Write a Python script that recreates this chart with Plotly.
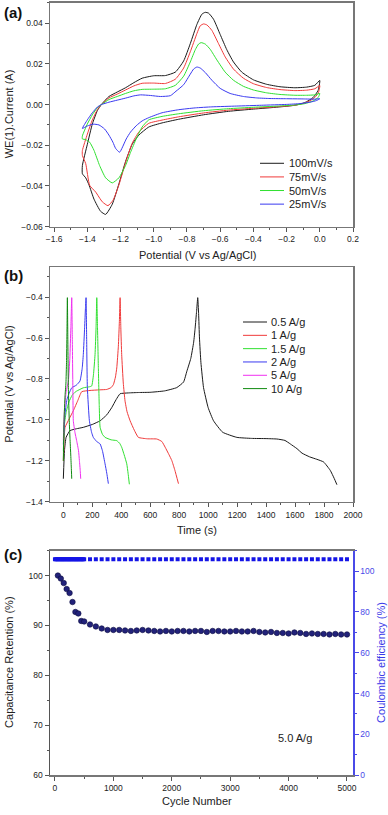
import plotly.graph_objects as go

FONT = "Liberation Sans, Arial, sans-serif"

# ---------------- (a) Cyclic voltammetry ----------------
cv_labels = ["100mV/s", "75mV/s", "50mV/s", "25mV/s"]
cv_colors = ["#1a1a1a", "#f03a3a", "#30e030", "#3a3af0"]

cv100_v = [-1.43, -1.40, -1.37, -1.34, -1.316, -1.27, -1.22, -1.17, -1.12, -1.07, -1.00, -0.93, -0.87, -0.82, -0.78, -0.74, -0.71, -0.69, -0.67, -0.64, -0.60, -0.56, -0.52, -0.47, -0.40, -0.32, -0.24, -0.15, -0.08, -0.03, 0.0,
           -0.01, -0.04, -0.09, -0.15, -0.25, -0.40, -0.55, -0.70, -0.85, -0.95, -1.03, -1.09, -1.13, -1.17, -1.21, -1.25, -1.29, -1.32, -1.36, -1.39, -1.41, -1.43, -1.43]
cv100_i = [-0.030, -0.0195, -0.0095, -0.003, 0.0, 0.0040, 0.0062, 0.0083, 0.0108, 0.0130, 0.0142, 0.0143, 0.0160, 0.0215, 0.0300, 0.0395, 0.0445, 0.0454, 0.0450, 0.0420, 0.0345, 0.0270, 0.0210, 0.0160, 0.0122, 0.0100, 0.0088, 0.0083, 0.0086, 0.0095, 0.0119,
           0.0070, 0.0035, 0.0010, -0.0003, -0.0012, -0.0022, -0.0033, -0.0050, -0.0072, -0.0090, -0.0110, -0.0150, -0.0195, -0.0280, -0.0390, -0.0490, -0.0540, -0.0525, -0.0465, -0.0395, -0.0360, -0.0340, -0.030]

cv75_v = [-1.43, -1.40, -1.37, -1.34, -1.316, -1.27, -1.22, -1.17, -1.12, -1.07, -1.00, -0.93, -0.87, -0.82, -0.78, -0.74, -0.72, -0.70, -0.68, -0.65, -0.61, -0.57, -0.52, -0.46, -0.40, -0.32, -0.24, -0.15, -0.08, -0.03, 0.0,
          -0.01, -0.04, -0.09, -0.15, -0.25, -0.40, -0.55, -0.70, -0.85, -0.95, -1.03, -1.09, -1.13, -1.17, -1.21, -1.245, -1.276, -1.31, -1.35, -1.386, -1.41, -1.43, -1.43]
cv75_i = [-0.0226, -0.0145, -0.0075, -0.0025, 0.0, 0.0033, 0.0052, 0.0072, 0.0092, 0.0105, 0.0106, 0.0104, 0.0125, 0.0180, 0.0260, 0.0350, 0.0388, 0.0397, 0.0392, 0.0365, 0.0300, 0.0235, 0.0175, 0.0130, 0.0103, 0.0084, 0.0074, 0.0069, 0.0071, 0.0078, 0.0094,
          0.0055, 0.0028, 0.0008, -0.0003, -0.0010, -0.0018, -0.0027, -0.0041, -0.0060, -0.0076, -0.0092, -0.0135, -0.0190, -0.0285, -0.0395, -0.0470, -0.0497, -0.0478, -0.0430, -0.0397, -0.0290, -0.0250, -0.0226]

cv50_v = [-1.43, -1.40, -1.37, -1.34, -1.316, -1.27, -1.22, -1.17, -1.12, -1.07, -1.00, -0.93, -0.87, -0.82, -0.78, -0.75, -0.73, -0.715, -0.69, -0.66, -0.62, -0.57, -0.52, -0.46, -0.40, -0.32, -0.24, -0.15, -0.08, -0.03, 0.0,
          -0.01, -0.04, -0.09, -0.15, -0.25, -0.40, -0.55, -0.70, -0.85, -0.95, -1.03, -1.07, -1.106, -1.14, -1.17, -1.21, -1.25, -1.29, -1.326, -1.36, -1.386, -1.41, -1.43, -1.43]
cv50_i = [-0.0154, -0.0095, -0.0050, -0.0015, 0.0, 0.0025, 0.0040, 0.0055, 0.0068, 0.0075, 0.0076, 0.0078, 0.0095, 0.0140, 0.0210, 0.0270, 0.0298, 0.0305, 0.0298, 0.0272, 0.0220, 0.0160, 0.0120, 0.0090, 0.0072, 0.0058, 0.0050, 0.0046, 0.0046, 0.0048, 0.0055,
          0.0035, 0.0018, 0.0005, -0.0002, -0.0007, -0.0013, -0.0020, -0.0030, -0.0045, -0.0058, -0.0075, -0.0110, -0.0169, -0.0235, -0.0300, -0.0360, -0.0385, -0.0360, -0.0300, -0.0225, -0.0185, -0.0172, -0.0169, -0.0154]

cv25_v = [-1.43, -1.40, -1.37, -1.34, -1.316, -1.27, -1.22, -1.17, -1.12, -1.08, -1.02, -0.96, -0.90, -0.866, -0.82, -0.78, -0.76, -0.74, -0.72, -0.69, -0.65, -0.60, -0.54, -0.46, -0.38, -0.30, -0.20, -0.10, -0.03, 0.0,
          -0.02, -0.06, -0.12, -0.20, -0.35, -0.50, -0.65, -0.75, -0.85, -0.95, -1.03, -1.07, -1.106, -1.14, -1.166, -1.206, -1.23, -1.246, -1.27, -1.296, -1.33, -1.366, -1.40, -1.43]
cv25_i = [-0.0117, -0.0075, -0.0040, -0.0012, 0.0, 0.0012, 0.0022, 0.0032, 0.0043, 0.0048, 0.0045, 0.0040, 0.0044, 0.0066, 0.0098, 0.0150, 0.0175, 0.0185, 0.0180, 0.0158, 0.0120, 0.0080, 0.0055, 0.0040, 0.0033, 0.0030, 0.0029, 0.0028, 0.0027, 0.0029,
          0.0020, 0.0012, 0.0005, 0.0001, -0.0003, -0.0007, -0.0011, -0.0016, -0.0025, -0.0040, -0.0064, -0.0080, -0.0104, -0.0135, -0.0169, -0.0234, -0.0215, -0.0185, -0.0150, -0.0120, -0.0100, -0.0096, -0.0105, -0.0117]

cv_v = [cv100_v, cv75_v, cv50_v, cv25_v]
cv_i = [cv100_i, cv75_i, cv50_i, cv25_i]

# ---------------- (b) Galvanostatic charge-discharge ----------------
gcd_labels = ["0.5 A/g", "1 A/g", "1.5 A/g", "2 A/g", "5 A/g", "10 A/g"]
gcd_colors = ["#1a1a1a", "#f03a3a", "#30e030", "#3a3af0", "#f030f0", "#108a10"]

gcd05_t = [0, 8, 19, 46, 90, 138, 200, 254, 300, 334, 365, 392, 450, 520, 599, 700, 783, 830, 853, 880, 900, 910, 920, 928, 934, 940, 950, 968, 1000, 1037, 1100, 1198, 1300, 1400, 1475, 1530, 1567, 1613, 1648, 1700, 1750, 1797, 1843, 1870, 1889]
gcd05_v = [-1.287, -1.15, -1.085, -1.052, -1.043, -1.036, -1.022, -1.004, -0.975, -0.94, -0.90, -0.872, -0.868, -0.866, -0.865, -0.858, -0.842, -0.815, -0.762, -0.70, -0.62, -0.552, -0.47, -0.403, -0.48, -0.60, -0.72, -0.842, -0.94, -1.004, -1.06, -1.085, -1.09, -1.091, -1.093, -1.100, -1.117, -1.140, -1.162, -1.180, -1.192, -1.205, -1.246, -1.285, -1.316]

gcd1_t = [0, 5, 12, 40, 69, 100, 127, 184, 250, 300, 330, 346, 360, 369, 380, 387, 392, 397, 403, 414, 426, 440, 461, 490, 518, 580, 645, 680, 703, 730, 749, 770, 795]
gcd1_v = [-1.20, -1.10, -1.036, -0.995, -0.955, -0.905, -0.862, -0.856, -0.853, -0.851, -0.842, -0.827, -0.79, -0.746, -0.64, -0.519, -0.403, -0.55, -0.681, -0.82, -0.907, -0.96, -1.004, -1.05, -1.085, -1.092, -1.093, -1.105, -1.133, -1.17, -1.198, -1.245, -1.311]

gcd15_t = [0, 8, 20, 40, 60, 80, 92, 138, 180, 196, 208, 219, 226, 231, 236, 242, 248, 254, 270, 288, 330, 369, 390, 403, 420, 438, 447, 456]
gcd15_v = [-1.15, -1.02, -0.96, -0.91, -0.88, -0.865, -0.859, -0.843, -0.838, -0.834, -0.78, -0.681, -0.55, -0.403, -0.55, -0.75, -0.93, -1.036, -1.07, -1.085, -1.097, -1.101, -1.115, -1.133, -1.17, -1.214, -1.26, -1.314]

gcd2_t = [0, 10, 25, 40, 58, 90, 115, 130, 138, 147, 153, 157, 161, 166, 180, 195, 207, 230, 254, 270, 288, 300, 311]
gcd2_v = [-1.12, -0.98, -0.90, -0.87, -0.843, -0.83, -0.81, -0.75, -0.681, -0.55, -0.45, -0.403, -0.60, -0.843, -1.004, -1.06, -1.085, -1.105, -1.117, -1.15, -1.214, -1.26, -1.311]

gcd5_t = [0, 8, 20, 35, 45, 52, 58, 62, 66, 69, 80, 92, 105, 111, 117, 120]
gcd5_v = [-1.10, -0.95, -0.86, -0.81, -0.70, -0.55, -0.403, -0.60, -0.85, -1.004, -1.06, -1.101, -1.15, -1.198, -1.25, -1.287]

gcd10_t = [0, 5, 12, 18, 22, 25, 28, 31, 35, 41, 46, 51, 55, 58]
gcd10_v = [-1.20, -1.00, -0.88, -0.82, -0.72, -0.58, -0.403, -0.60, -0.85, -1.004, -1.09, -1.166, -1.23, -1.287]

gcd_t = [gcd05_t, gcd1_t, gcd15_t, gcd2_t, gcd5_t, gcd10_t]
gcd_v = [gcd05_v, gcd1_v, gcd15_v, gcd2_v, gcd5_v, gcd10_v]

# ---------------- (c) Cycling stability ----------------
ret_cycles = [50, 100, 150, 200, 250, 300, 350, 400, 450, 500,
              600, 700, 800, 900, 1000, 1100, 1200, 1300, 1400, 1500, 1600, 1700, 1800, 1900, 2000,
              2100, 2200, 2300, 2400, 2500, 2600, 2700, 2800, 2900, 3000, 3100, 3200, 3300, 3400, 3500,
              3600, 3700, 3800, 3900, 4000, 4100, 4200, 4300, 4400, 4500, 4600, 4700, 4800, 4900, 5000]
retention = [100.0, 99.4, 98.5, 97.3, 96.5, 94.7, 92.7, 92.4, 90.9, 90.8,
             90.2, 89.8, 89.4, 89.1, 89.1, 89.1, 89.0, 88.9, 89.0, 89.1, 89.0, 88.9, 88.8, 88.9, 88.8,
             88.9, 88.9, 88.8, 88.9, 88.9, 88.7, 88.9, 88.9, 88.8, 88.8, 88.9, 88.8, 88.8, 88.9, 88.7,
             88.6, 88.7, 88.5, 88.5, 88.4, 88.6, 88.5, 88.3, 88.4, 88.3, 88.3, 88.2, 88.3, 88.2, 88.2]

ce_cycles = [0, 20, 40, 60, 80, 100, 120, 140, 160, 180, 200, 220, 240, 260, 280, 300, 320, 340, 360, 380, 400, 420, 440, 460, 480, 500,
             600, 700, 800, 900, 1000, 1100, 1200, 1300, 1400, 1500, 1600, 1700, 1800, 1900, 2000,
             2100, 2200, 2300, 2400, 2500, 2600, 2700, 2800, 2900, 3000, 3100, 3200, 3300, 3400, 3500,
             3600, 3700, 3800, 3900, 4000, 4100, 4200, 4300, 4400, 4500, 4600, 4700, 4800, 4900, 5000]
ce_values = [105.8, 105.8, 105.8, 105.8, 105.8, 105.8, 105.8, 105.8, 105.8, 105.8, 105.8, 105.8, 105.8,
             105.8, 105.8, 105.8, 105.8, 105.8, 105.8, 105.8, 105.8, 105.8, 105.8, 105.8, 105.8, 105.8,
             105.8, 105.8, 105.8, 105.8, 105.8, 105.8, 105.8, 105.8, 105.8, 105.8, 105.8, 105.8, 105.8, 105.8, 105.8,
             105.8, 105.8, 105.8, 105.8, 105.8, 105.8, 105.8, 105.8, 105.8, 105.8, 105.8, 105.8, 105.8, 105.8, 105.8,
             105.8, 105.8, 105.8, 105.8, 105.8, 105.8, 105.8, 105.8, 105.8, 105.8, 105.8, 105.8, 105.8, 105.8, 105.8]

# ---------------- figure ----------------
W, H = 388, 815
ML, MR = 50, 35
PW = W - ML - MR


def px_x(px):
    return (px - ML) / PW


def px_y(py):
    return 1 - py / H


fig = go.Figure()

for v, i, c, name in zip(cv_v, cv_i, cv_colors, cv_labels):
    fig.add_trace(go.Scatter(x=v, y=i, mode="lines", name=name, xaxis="x", yaxis="y",
                             line=dict(color=c, width=1, shape="spline", smoothing=0.5)))

for t, v, c, name in zip(gcd_t, gcd_v, gcd_colors, gcd_labels):
    fig.add_trace(go.Scatter(x=t, y=v, mode="lines", name=name, xaxis="x2", yaxis="y2",
                             line=dict(color=c, width=1, shape="spline", smoothing=0.4)))

fig.add_trace(go.Scatter(x=ce_cycles, y=ce_values, mode="markers", xaxis="x3", yaxis="y4",
                         marker=dict(symbol="square", size=4, color="#1414e6")))
fig.add_trace(go.Scatter(x=ret_cycles, y=retention, mode="markers", xaxis="x3", yaxis="y3",
                         marker=dict(symbol="circle", size=5.5, color="#22227a",
                                     line=dict(color="#0c0c40", width=0.6))))

tickfont = dict(family=FONT, size=8.5, color="#222")
frame = dict(showline=True, linecolor="#777", linewidth=1.5, mirror=True,
             ticks="outside", ticklen=4, tickwidth=1, tickcolor="#555",
             showgrid=False, zeroline=False, tickfont=tickfont)

fig.update_layout(
    width=W, height=H, paper_bgcolor="white", plot_bgcolor="white",
    margin=dict(l=ML, r=MR, t=0, b=0), showlegend=False, hovermode=False,
    font=dict(family=FONT, size=11, color="#222"),
    xaxis=dict(frame, domain=[0, 1], anchor="y", range=[-1.625, 0.2], dtick=0.2, tickformat=".1f",
               minor=dict(ticks="outside", ticklen=2, dtick=0.1, tickcolor="#555")),
    yaxis=dict(frame, domain=[px_y(228), px_y(3)], anchor="x", range=[-0.06, 0.05], dtick=0.02, tickformat=".2f",
               minor=dict(ticks="outside", ticklen=2, dtick=0.01, tickcolor="#555")),
    xaxis2=dict(frame, domain=[0, 1], anchor="y2", range=[-92, 2000], dtick=200,
                minor=dict(ticks="outside", ticklen=2, dtick=100, tickcolor="#555")),
    yaxis2=dict(frame, domain=[px_y(505), px_y(269)], anchor="x2", range=[-1.4, -0.255], dtick=0.2, tickformat=".1f",
                minor=dict(ticks="outside", ticklen=2, dtick=0.1, tickcolor="#555")),
    xaxis3=dict(frame, domain=[0, 1], anchor="y3", range=[-85, 5103], dtick=1000,
                minor=dict(ticks="outside", ticklen=2, dtick=500, tickcolor="#555")),
    yaxis3=dict(frame, mirror=False, domain=[px_y(780), px_y(554)], anchor="x3", range=[60, 105], dtick=10,
                linecolor="#555",
                minor=dict(ticks="outside", ticklen=2, dtick=5, tickcolor="#555")),
    yaxis4=dict(showline=True, linecolor="#4a4ae8", linewidth=1.5, overlaying="y3", side="right", anchor="x3",
                range=[0, 110], dtick=20, ticks="outside", ticklen=4, tickcolor="#4a4ae8",
                tickfont=dict(family=FONT, size=8.5, color="#4a4ae8"), showgrid=False, zeroline=False,
                minor=dict(ticks="outside", ticklen=2, dtick=10, tickcolor="#4a4ae8")),
)

ann = []
shapes = []


def note(text, px, py, font, angle=0, xanchor="center"):
    ann.append(dict(text=text, x=px_x(px), y=px_y(py), xref="paper", yref="paper", showarrow=False,
                    xanchor=xanchor, yanchor="middle", textangle=angle, font=font))


# panel labels
for lab, py in [("(a)", 13), ("(b)", 277), ("(c)", 558)]:
    note("<b>" + lab + "</b>", 13, py, dict(family=FONT, size=15, color="#111"))

# axis titles
title_font = dict(family=FONT, size=11, color="#222")
for txt, py in [("Potential (V vs Ag/AgCl)", 257), ("Time (s)", 533), ("Cycle Number", 806)]:
    note(txt, 197, py, title_font)
for txt, py in [("WE(1).Current (A)", 115), ("Potential (V vs Ag/AgCl)", 387), ("Capacitance Retention (%)", 667)]:
    note(txt, 9, py, title_font, angle=-90)
note("Coulombic efficiency (%)", 381, 667, dict(family=FONT, size=11, color="#3a3ae8"), angle=-90)
note("5.0 A/g", 295, 743, title_font)

# legends (a) and (b)
leg_font = dict(family=FONT, size=11, color="#222")
for k, (lab, c) in enumerate(zip(cv_labels, cv_colors)):
    py = 164.3 + k * 13.7
    shapes.append(dict(type="line", xref="paper", yref="paper", x0=px_x(260), x1=px_x(284), y0=px_y(py), y1=px_y(py),
                       line=dict(color=c, width=1)))
    note(lab, 287, py, leg_font, xanchor="left")
for k, (lab, c) in enumerate(zip(gcd_labels, gcd_colors)):
    py = 324 + k * 13.4
    shapes.append(dict(type="line", xref="paper", yref="paper", x0=px_x(243), x1=px_x(267), y0=px_y(py), y1=px_y(py),
                       line=dict(color=c, width=1)))
    note(lab, 269, py, leg_font, xanchor="left")

fig.update_layout(annotations=ann, shapes=shapes)
fig.write_html("out.html", config={"displayModeBar": False, "staticPlot": True},
               post_script="document.body.style.margin='0px';document.body.style.overflow='hidden';")
